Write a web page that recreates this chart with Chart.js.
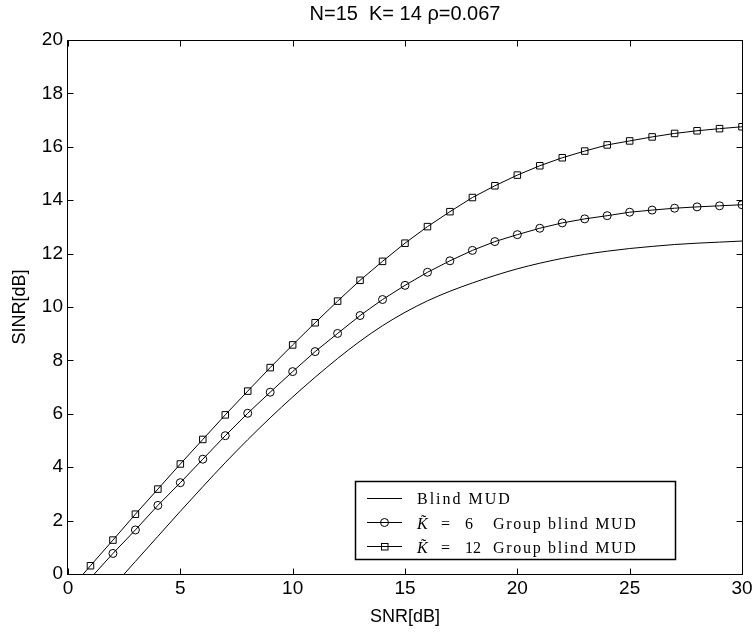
<!DOCTYPE html>
<html>
<head>
<meta charset="utf-8">
<script src="https://cdn.jsdelivr.net/npm/chart.js@4.4.1/dist/chart.umd.min.js"></script>
<style>
  html, body { margin: 0; padding: 0; background: #fff; }
  #wrap { width: 756px; height: 632px; }
</style>
</head>
<body>
<div id="wrap"><canvas id="sinr-chart"></canvas></div>
<script>
/* SINR vs SNR — blind MUD against group blind MUD */

const snrDb = [1, 2, 3, 4, 5, 6, 7, 8, 9, 10, 11, 12, 13, 14, 15,
               16, 17, 18, 19, 20, 21, 22, 23, 24, 25, 26, 27, 28, 29, 30];

// where each curve leaves the x axis (SNR at SINR = 0)
const zeroCrossSnr = { blind: 2.5, k6: 1.17, k12: 0.68 };

const sinrBlind = [null, null, 0.47, 1.41, 2.35, 3.27, 4.17, 5.03, 5.85, 6.63,
                   7.37, 8.07, 8.72, 9.3, 9.8, 10.23, 10.59, 10.9, 11.18, 11.43,
                   11.64, 11.82, 11.97, 12.09, 12.19, 12.27, 12.34, 12.39, 12.43, 12.47];

const sinrK6 = [null, 0.77, 1.65, 2.57, 3.42, 4.3, 5.18, 6.02, 6.81, 7.58,
                8.33, 9.01, 9.68, 10.28, 10.81, 11.3, 11.73, 12.12, 12.45, 12.71,
                12.95, 13.15, 13.3, 13.42, 13.55, 13.63, 13.7, 13.75, 13.79, 13.83];

const sinrK12 = [0.31, 1.27, 2.24, 3.18, 4.12, 5.04, 5.96, 6.85, 7.73, 8.58,
                 9.41, 10.22, 11.0, 11.71, 12.39, 13.01, 13.57, 14.1, 14.54, 14.94,
                 15.29, 15.59, 15.84, 16.07, 16.22, 16.37, 16.5, 16.6, 16.68, 16.75];

const xTicks = [0, 5, 10, 15, 20, 25, 30];
const yTicks = [0, 2, 4, 6, 8, 10, 12, 14, 16, 18, 20];

function toPoints(cross, values) {
    const pts = [{ x: cross, y: 0 }];
    snrDb.forEach((x, i) => {
        if (values[i] !== null) pts.push({ x, y: values[i] });
    });
    return pts;
}

// MATLAB-style box with inward ticks on all four sides
const axesFrame = {
    id: 'axesFrame',
    afterDatasetsDraw(chart) {
        const { ctx, chartArea: a, scales: { x, y } } = chart;
        const L = Math.round(a.left) - 0.5, R = Math.round(a.right) + 0.5;
        const T = Math.round(a.top) + 0.5, B = Math.round(a.bottom) + 0.5;
        const tl = 6;
        ctx.save();
        ctx.strokeStyle = '#000';
        ctx.lineWidth = 1;
        ctx.beginPath();
        xTicks.forEach(v => {
            const px = Math.round(x.getPixelForValue(v)) + 0.5;
            ctx.moveTo(px, B); ctx.lineTo(px, B - tl);
            ctx.moveTo(px, T); ctx.lineTo(px, T + tl);
        });
        yTicks.forEach(v => {
            const py = Math.round(y.getPixelForValue(v)) + 0.5;
            ctx.moveTo(L, py); ctx.lineTo(L + tl, py);
            ctx.moveTo(R, py); ctx.lineTo(R - tl, py);
        });
        ctx.stroke();
        ctx.strokeRect(L, T, R - L, B - T);
        ctx.restore();
    }
};

// legend box in the lower right, LaTeX-ish serif text
const boxLegend = {
    id: 'boxLegend',
    afterDraw(chart) {
        const { ctx } = chart;
        const bx = 355.5, by = 481.5, bw = 320, bh = 78;
        const rows = [498.5, 522.5, 546.5];
        const serif = "'Liberation Serif', 'DejaVu Serif', serif";
        ctx.save();
        ctx.fillStyle = '#fff';
        ctx.fillRect(bx, by, bw, bh);
        ctx.strokeStyle = '#000';
        ctx.lineWidth = 1.5;
        ctx.strokeRect(bx, by, bw, bh);

        ctx.lineWidth = 1;
        rows.forEach((ry, i) => {
            ctx.beginPath();
            ctx.moveTo(367, ry); ctx.lineTo(402, ry);
            ctx.stroke();
            const ds = chart.data.datasets[i];
            if (ds.pointStyle === 'circle') {
                ctx.beginPath();
                ctx.arc(384.5, ry, 4, 0, Math.PI * 2);
                ctx.stroke();
            } else if (ds.pointStyle === 'rect') {
                ctx.strokeRect(381.5, ry - 3, 6.5, 6.5);
            }
        });

        ctx.fillStyle = '#000';
        ctx.textBaseline = 'alphabetic';
        ctx.textAlign = 'left';
        ctx.letterSpacing = '2px';
        ctx.font = `16px ${serif}`;
        ctx.fillText('Blind MUD', 417, rows[0] + 5.5);

        [['6', rows[1]], ['12', rows[2]]].forEach(([k, ry]) => {
            const base = ry + 6;
            ctx.letterSpacing = '0px';
            ctx.font = `italic 16px ${serif}`;
            ctx.fillText('K\u0303', 417, base);
            ctx.font = `16px ${serif}`;
            ctx.fillText('=', 441, base);
            ctx.fillText(k, 465, base);
            ctx.letterSpacing = '1.7px';
            ctx.fillText('Group blind MUD', 493, base);
        });
        ctx.restore();
    }
};

Chart.defaults.font.family = "'Liberation Sans', Arial, sans-serif";
Chart.defaults.color = '#000';

new Chart(document.getElementById('sinr-chart'), {
    type: 'line',
    data: {
        datasets: [
            {
                label: 'Blind MUD',
                data: toPoints(zeroCrossSnr.blind, sinrBlind),
                borderColor: '#000',
                borderWidth: 1,
                pointRadius: 0,
                cubicInterpolationMode: 'monotone'
            },
            {
                label: 'K=6 Group blind MUD',
                data: toPoints(zeroCrossSnr.k6, sinrK6),
                borderColor: '#000',
                borderWidth: 1,
                pointStyle: 'circle',
                pointRadius: (c) => c.dataIndex === 0 ? 0 : 4,
                pointBorderColor: '#000',
                pointBackgroundColor: 'rgba(0,0,0,0)',
                pointBorderWidth: 1,
                tension: 0
            },
            {
                label: 'K=12 Group blind MUD',
                data: toPoints(zeroCrossSnr.k12, sinrK12),
                borderColor: '#000',
                borderWidth: 1,
                pointStyle: 'rect',
                pointRadius: (c) => c.dataIndex === 0 ? 0 : 4.6,
                pointBorderColor: '#000',
                pointBackgroundColor: 'rgba(0,0,0,0)',
                pointBorderWidth: 1,
                tension: 0
            }
        ]
    },
    options: {
        responsive: true,
        maintainAspectRatio: false,
        animation: false,
        events: [],
        layout: { padding: { left: 0, right: 14, top: 0, bottom: 0 } },
        scales: {
            x: {
                type: 'linear',
                min: 0,
                max: 30,
                grid: { display: false, drawTicks: false },
                border: { display: false },
                afterBuildTicks: (s) => { s.ticks = xTicks.map(v => ({ value: v })); },
                ticks: { padding: 3, font: { size: 19 }, maxRotation: 0 },
                title: { display: true, text: 'SNR[dB]', font: { size: 18 }, padding: { top: 0, bottom: 4 } },
                afterFit: (s) => { s.height = 58; }
            },
            y: {
                min: 0,
                max: 20,
                grid: { display: false, drawTicks: false },
                border: { display: false },
                afterBuildTicks: (s) => { s.ticks = yTicks.map(v => ({ value: v })); },
                ticks: { padding: 5, font: { size: 19 } },
                title: { display: true, text: 'SINR[dB]', font: { size: 18 }, padding: { top: 9, bottom: 0 } },
                afterFit: (s) => { s.width = 68; }
            }
        },
        plugins: {
            legend: { display: false },
            tooltip: { enabled: false },
            title: {
                display: true,
                fullSize: false,
                text: 'N=15  K= 14 \u03C1=0.067',
                font: { size: 20, weight: 'normal' },
                padding: { top: 2, bottom: 14 }
            }
        }
    },
    plugins: [axesFrame, boxLegend]
});
</script>
</body>
</html>
